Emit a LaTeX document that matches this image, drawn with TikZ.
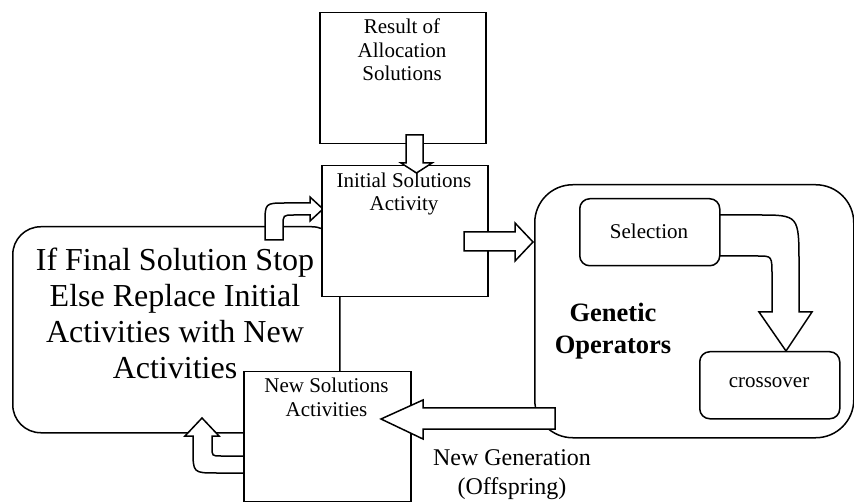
\documentclass[tikz,border=0pt]{standalone}
\usepackage{fontspec}
\setmainfont{Liberation Serif}
\begin{document}
\begin{tikzpicture}[x=1pt, y=-1pt, line width=1.5pt, line join=miter,
  box/.style={draw, fill=white, inner sep=0pt, anchor=north west},
  blockarrow/.style={draw, fill=white, line join=miter},
  small/.style={font=\fontsize{21}{23.5}\selectfont, align=center},
  big/.style={font=\fontsize{32}{36}\selectfont, align=center},
  label/.style={font=\fontsize{24}{29}\selectfont, align=center},
  heading/.style={font=\bfseries\fontsize{26.5}{32}\selectfont, align=center}]
\useasboundingbox (0,0) rectangle (854,502);

% decision loop (drawn first, partly hidden by the activity boxes)
\node[box, rounded corners=28pt, minimum width=327pt, minimum height=206pt] (loop) at (12,226) {};

% curved block arrow: loop -> initial activities
\draw[blockarrow] (265,240) -- (265,224) .. controls (265,203) .. (286,203)
  -- (310,203) -- (310,197) -- (323,209) -- (310,221) -- (310,215)
  -- (294,215) .. controls (283,215) .. (283,226) -- (283,240) -- cycle;
% curved block arrow: new activities -> loop
\draw[blockarrow] (250,473) -- (217,473) .. controls (193,473) .. (193,449)
  -- (193,436) -- (185,436) -- (202,418) -- (219,436) -- (212,436)
  -- (212,447) .. controls (212,456) .. (221,456) -- (250,456) -- cycle;
\node[big] (looptext) at (175,313.5) {If Final Solution Stop\\Else Replace Initial\\Activities with New\\Activities};

% activity boxes
\node[box, minimum width=166pt, minimum height=131pt] (init) at (321,165) {};
\node[small] (inittext) at (404,194) {Initial Solutions\\Activity};
\node[box, minimum width=167pt, minimum height=130pt] (newsol) at (243,371) {};
\node[small] (newtext) at (326.5,397.5) {New Solutions\\Activities};
\node[box, minimum width=166pt, minimum height=131pt] (result) at (319,12) {};
\node[small] (resulttext) at (402,50) {Result of\\Allocation\\Solutions};

% block arrow: result -> initial activities
\draw[blockarrow] (406,135) -- (423,135) -- (423,163) -- (432,163)
  -- (416.5,173) -- (401,163) -- (406,163) -- cycle;

% genetic operators group
\node[box, rounded corners=38pt, minimum width=319pt, minimum height=253pt] (genetic) at (534,184) {};
\node[heading] (genetictext) at (613,331) {Genetic\\Operators};

% block arrow: initial activities -> genetic operators
\draw[blockarrow] (464,232) -- (515,232) -- (515,223) -- (533,242)
  -- (515,261) -- (515,251) -- (464,251) -- cycle;

% curved block arrow: selection -> crossover
\draw[blockarrow] (719,215) -- (758,215) .. controls (799,215) .. (799,265)
  -- (799,312) -- (812,312) -- (786,351) -- (759,312) -- (772,312)
  -- (772,276) .. controls (772,256) .. (758,256) -- (719,256) -- cycle;
\node[box, rounded corners=10pt, minimum width=140pt, minimum height=67pt] (selection) at (579,198) {};
\node[small] (seltext) at (649,231) {Selection};
\node[box, rounded corners=10pt, minimum width=140pt, minimum height=67pt] (crossover) at (699,351) {};
\node[small] (crosstext) at (769,383) {crossover};

% block arrow: genetic operators -> new activities
\draw[blockarrow] (555,408) -- (423,408) -- (423,400) -- (381,419)
  -- (423,439) -- (423,429) -- (555,429) -- cycle;
\node[label] (gentext) at (512,475) {New Generation\\(Offspring)};
\end{tikzpicture}
\end{document}
